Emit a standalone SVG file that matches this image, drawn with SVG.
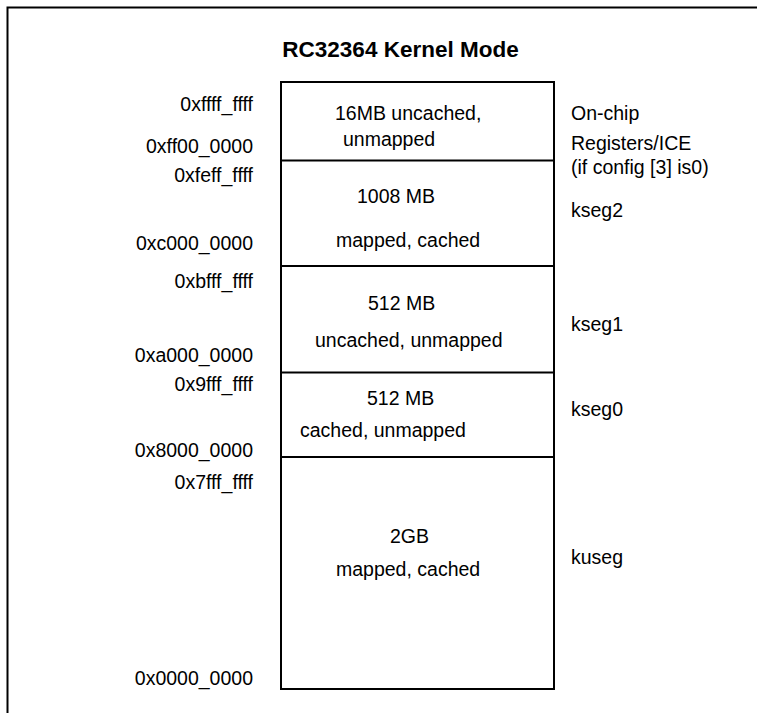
<svg xmlns="http://www.w3.org/2000/svg" width="757" height="713" viewBox="0 0 757 713">
<style>
text{font-family:"Liberation Sans",Arial,sans-serif;font-size:19.5px;fill:#000}
.t{font-weight:bold;font-size:22.5px}
.a{text-anchor:end}
.ln{stroke:#000;stroke-width:2;fill:none}
</style>
<rect width="757" height="713" fill="#fff"/>
<g id="frame">
<path class="ln" d="M7.5,713 V7.5 H757"/>
</g>
<text class="t" x="400.5" y="57" text-anchor="middle">RC32364 Kernel Mode</text>
<g id="addresses">
<text class="a" x="253" y="111">0xffff_ffff</text>
<text class="a" x="253" y="153">0xff00_0000</text>
<text class="a" x="253" y="182">0xfeff_ffff</text>
<text class="a" x="253" y="250">0xc000_0000</text>
<text class="a" x="253" y="288">0xbfff_ffff</text>
<text class="a" x="253" y="362">0xa000_0000</text>
<text class="a" x="253" y="391">0x9fff_ffff</text>
<text class="a" x="253" y="457">0x8000_0000</text>
<text class="a" x="253" y="489">0x7fff_ffff</text>
<text class="a" x="253" y="685">0x0000_0000</text>
</g>
<g id="memory-map">
<rect class="ln" x="281" y="82" width="273" height="607"/>
<path class="ln" d="M281,160.5 H554 M281,266 H554 M281,372.5 H554 M281,457 H554"/>
</g>
<g id="seg-onchip">
<text x="335" y="120">16MB uncached,</text>
<text x="343" y="146">unmapped</text>
<text x="571" y="120">On-chip</text>
<text x="571" y="150">Registers/ICE</text>
<text x="571" y="174">(if config [3] is0)</text>
</g>
<g id="seg-kseg2">
<text x="357" y="203">1008 MB</text>
<text x="336" y="247">mapped, cached</text>
<text x="571" y="217">kseg2</text>
</g>
<g id="seg-kseg1">
<text x="368" y="310">512 MB</text>
<text x="315" y="347">uncached, unmapped</text>
<text x="571" y="331">kseg1</text>
</g>
<g id="seg-kseg0">
<text x="367" y="405">512 MB</text>
<text x="300" y="437">cached, unmapped</text>
<text x="571" y="416">kseg0</text>
</g>
<g id="seg-kuseg">
<text x="390" y="543">2GB</text>
<text x="336" y="576">mapped, cached</text>
<text x="571" y="564">kuseg</text>
</g>
</svg>
